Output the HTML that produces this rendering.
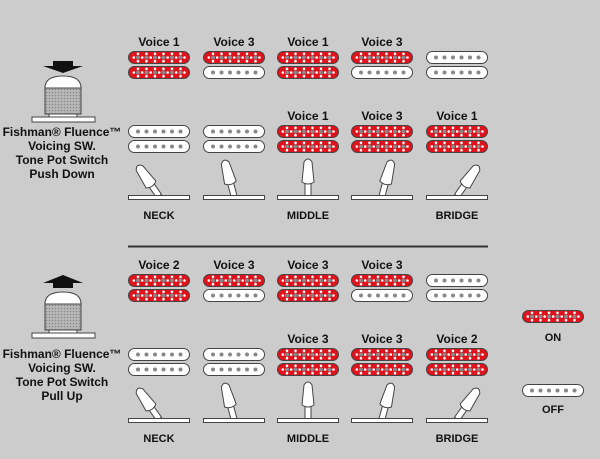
<!DOCTYPE html>
<html><head><meta charset="utf-8"><style>
html,body{margin:0;padding:0;background:#cccccc;}
svg{display:block}
text{font-family:"Liberation Sans",sans-serif;font-weight:bold;fill:#111;text-anchor:middle}
</style></head><body>
<svg width="600" height="459" viewBox="0 0 600 459" xmlns="http://www.w3.org/2000/svg">
<defs>
<pattern id="knurl" width="3" height="3" patternUnits="userSpaceOnUse">
<rect width="3" height="3" fill="#b8b8b8"/><circle cx="1.5" cy="1.5" r="0.8" fill="#888"/>
</pattern>
<g id="w">
<rect x="0.5" y="0.5" width="61" height="12" rx="6" fill="#fff" stroke="#444" stroke-width="1"/>
<g fill="#888"><circle cx="10" cy="6.5" r="2"/><circle cx="18.5" cy="6.5" r="2"/><circle cx="27" cy="6.5" r="2"/><circle cx="35.5" cy="6.5" r="2"/><circle cx="44" cy="6.5" r="2"/><circle cx="52.5" cy="6.5" r="2"/></g>
</g>
<g id="r">
<rect x="0.5" y="0.5" width="61" height="12" rx="6" fill="#e0121c" stroke="#444" stroke-width="1"/>
<g fill="#fff">
<circle cx="10" cy="2.8" r="1.3"/><circle cx="18.5" cy="2.8" r="1.3"/><circle cx="27" cy="2.8" r="1.3"/><circle cx="35.5" cy="2.8" r="1.3"/><circle cx="44" cy="2.8" r="1.3"/><circle cx="52.5" cy="2.8" r="1.3"/>
<circle cx="10" cy="10.2" r="1.3"/><circle cx="18.5" cy="10.2" r="1.3"/><circle cx="27" cy="10.2" r="1.3"/><circle cx="35.5" cy="10.2" r="1.3"/><circle cx="44" cy="10.2" r="1.3"/><circle cx="52.5" cy="10.2" r="1.3"/>
<circle cx="5.8" cy="6.5" r="1.3"/><circle cx="14.2" cy="6.5" r="1.3"/><circle cx="22.7" cy="6.5" r="1.3"/><circle cx="31.2" cy="6.5" r="1.3"/><circle cx="39.7" cy="6.5" r="1.3"/><circle cx="48.2" cy="6.5" r="1.3"/><circle cx="56.5" cy="6.5" r="1.3"/>
</g>
<g fill="#888"><circle cx="10" cy="6.5" r="2"/><circle cx="18.5" cy="6.5" r="2"/><circle cx="27" cy="6.5" r="2"/><circle cx="35.5" cy="6.5" r="2"/><circle cx="44" cy="6.5" r="2"/><circle cx="52.5" cy="6.5" r="2"/></g>
</g>
<g id="lever">
<rect x="-3" y="-14" width="6" height="14" fill="#fff" stroke="#444"/>
<path d="M-6,-14 L-4,-34 Q0,-40 4,-34 L6,-14 Q0,-10 -6,-14 Z" fill="#fff" stroke="#444"/>
</g>
<g id="base"><rect x="0.5" y="0.5" width="61" height="4" fill="#fff" stroke="#444"/></g>
<g id="knob">
<rect x="-14" y="33" width="28" height="8" fill="#fff" stroke="#444"/>
<rect x="-18" y="10" width="36" height="28" fill="url(#knurl)" stroke="#444"/>
<path d="M-18,12 Q-18,0 0,0 Q18,0 18,12 Z" fill="#fff" stroke="#444"/>
<rect x="-31" y="41" width="63" height="5" fill="#fff" stroke="#444"/>
</g>
</defs>

<!-- TOP SECTION -->
<g font-size="12">
<text x="159" y="46">Voice 1</text><text x="234" y="46">Voice 3</text><text x="308" y="46">Voice 1</text><text x="382" y="46">Voice 3</text>
<text x="308" y="120">Voice 1</text><text x="382" y="120">Voice 3</text><text x="457" y="120">Voice 1</text>
</g>
<use href="#r" x="128" y="51"/><use href="#r" x="128" y="66"/>
<use href="#r" x="203" y="51"/><use href="#w" x="203" y="66"/>
<use href="#r" x="277" y="51"/><use href="#r" x="277" y="66"/>
<use href="#r" x="351" y="51"/><use href="#w" x="351" y="66"/>
<use href="#w" x="426" y="51"/><use href="#w" x="426" y="66"/>

<use href="#w" x="128" y="125"/><use href="#w" x="128" y="140"/>
<use href="#w" x="203" y="125"/><use href="#w" x="203" y="140"/>
<use href="#r" x="277" y="125"/><use href="#r" x="277" y="140"/>
<use href="#r" x="351" y="125"/><use href="#r" x="351" y="140"/>
<use href="#r" x="426" y="125"/><use href="#r" x="426" y="140"/>

<use href="#lever" transform="translate(159,196) rotate(-35)"/>
<use href="#lever" transform="translate(234,196) rotate(-15)"/>
<use href="#lever" transform="translate(308,196) rotate(0)"/>
<use href="#lever" transform="translate(382,196) rotate(15)"/>
<use href="#lever" transform="translate(457,196) rotate(35)"/>
<use href="#base" x="128" y="195"/><use href="#base" x="203" y="195"/><use href="#base" x="277" y="195"/><use href="#base" x="351" y="195"/><use href="#base" x="426" y="195"/>
<g font-size="11"><text x="159" y="219">NECK</text><text x="308" y="219">MIDDLE</text><text x="457" y="219">BRIDGE</text></g>

<line x1="128" y1="246.5" x2="488" y2="246.5" stroke="#333" stroke-width="2"/>

<!-- top knob -->
<path d="M53,61 H73 V66 H83 L63,73 L43,66 H53 Z" fill="#111"/>
<use href="#knob" x="63" y="76"/>
<g font-size="12"><text x="62" y="136">Fishman® Fluence™</text><text x="62" y="150">Voicing SW.</text><text x="62" y="164">Tone Pot Switch</text><text x="62" y="178">Push Down</text></g>

<!-- BOTTOM SECTION -->
<g font-size="12">
<text x="159" y="269">Voice 2</text><text x="234" y="269">Voice 3</text><text x="308" y="269">Voice 3</text><text x="382" y="269">Voice 3</text>
<text x="308" y="343">Voice 3</text><text x="382" y="343">Voice 3</text><text x="457" y="343">Voice 2</text>
</g>
<use href="#r" x="128" y="274"/><use href="#r" x="128" y="289"/>
<use href="#r" x="203" y="274"/><use href="#w" x="203" y="289"/>
<use href="#r" x="277" y="274"/><use href="#r" x="277" y="289"/>
<use href="#r" x="351" y="274"/><use href="#w" x="351" y="289"/>
<use href="#w" x="426" y="274"/><use href="#w" x="426" y="289"/>

<use href="#w" x="128" y="348"/><use href="#w" x="128" y="363"/>
<use href="#w" x="203" y="348"/><use href="#w" x="203" y="363"/>
<use href="#r" x="277" y="348"/><use href="#r" x="277" y="363"/>
<use href="#r" x="351" y="348"/><use href="#r" x="351" y="363"/>
<use href="#r" x="426" y="348"/><use href="#r" x="426" y="363"/>

<use href="#lever" transform="translate(159,419) rotate(-35)"/>
<use href="#lever" transform="translate(234,419) rotate(-15)"/>
<use href="#lever" transform="translate(308,419) rotate(0)"/>
<use href="#lever" transform="translate(382,419) rotate(15)"/>
<use href="#lever" transform="translate(457,419) rotate(35)"/>
<use href="#base" x="128" y="418"/><use href="#base" x="203" y="418"/><use href="#base" x="277" y="418"/><use href="#base" x="351" y="418"/><use href="#base" x="426" y="418"/>
<g font-size="11"><text x="159" y="442">NECK</text><text x="308" y="442">MIDDLE</text><text x="457" y="442">BRIDGE</text></g>

<!-- bottom knob -->
<path d="M63,275 L83,283 H73 V288 H53 V283 H43 Z" fill="#111"/>
<use href="#knob" x="63" y="292"/>
<g font-size="12"><text x="62" y="358">Fishman® Fluence™</text><text x="62" y="372">Voicing SW.</text><text x="62" y="386">Tone Pot Switch</text><text x="62" y="400">Pull Up</text></g>

<!-- legend -->
<use href="#r" x="522" y="310"/>
<text x="553" y="341" font-size="11">ON</text>
<use href="#w" x="522" y="384"/>
<text x="553" y="413" font-size="11">OFF</text>
</svg>
</body></html>
